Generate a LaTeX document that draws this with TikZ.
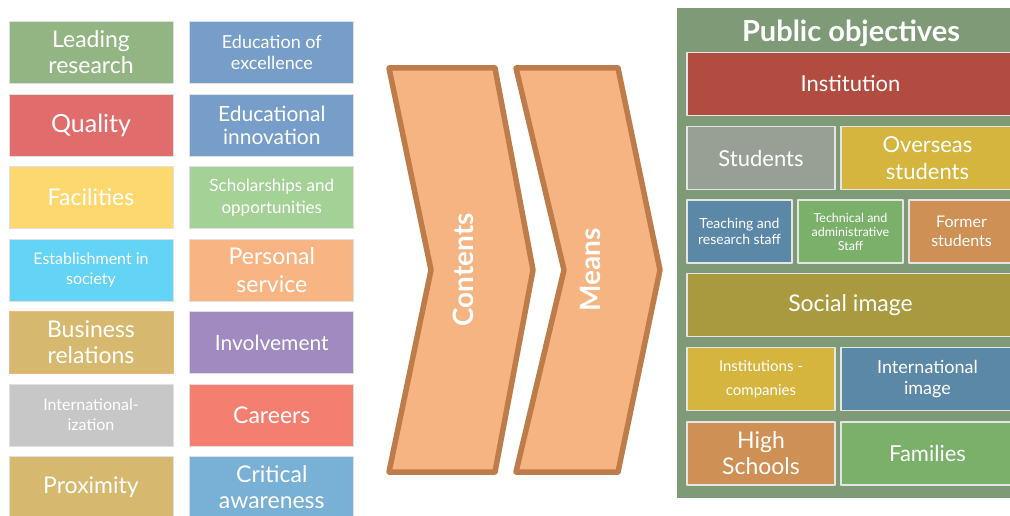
\documentclass[tikz,border=0pt]{standalone}
\usepackage{fontspec}
\setmainfont{Lato}
\usetikzlibrary{positioning}
\definecolor{cLead}{RGB}{147,181,132}
\definecolor{cExcel}{RGB}{119,158,200}
\definecolor{cQual}{RGB}{224,108,108}
\definecolor{cFacil}{RGB}{253,216,111}
\definecolor{cSchol}{RGB}{164,209,150}
\definecolor{cEstab}{RGB}{99,211,246}
\definecolor{cPers}{RGB}{248,180,130}
\definecolor{cBusi}{RGB}{214,185,110}
\definecolor{cBusiEdge}{RGB}{240,184,138}
\definecolor{cInvol}{RGB}{160,138,191}
\definecolor{cIntern}{RGB}{198,199,198}
\definecolor{cCareer}{RGB}{244,127,112}
\definecolor{cCrit}{RGB}{120,176,214}
\definecolor{cChev}{RGB}{245,180,130}
\definecolor{cChevEdge}{RGB}{190,124,74}
\definecolor{cPanel}{RGB}{127,154,119}
\definecolor{cInst}{RGB}{179,76,64}
\definecolor{cStud}{RGB}{152,160,149}
\definecolor{cGold}{RGB}{213,181,61}
\definecolor{cSteel}{RGB}{92,136,168}
\definecolor{cLeaf}{RGB}{122,176,106}
\definecolor{cCopper}{RGB}{207,144,85}
\definecolor{cOlive}{RGB}{169,154,64}
\newcommand{\fsz}[2]{\fontsize{#1}{#2}\selectfont}
\begin{document}
\begin{tikzpicture}[x=1pt,y=-1pt,line join=round,node distance=9.7pt,
  box/.style={draw=white!88!black,line width=0.8pt,text=white,align=center,inner sep=0pt,
    minimum width=164pt,minimum height=62pt},
  tile/.style={draw=white!90!black,line width=1.2pt,text=white,align=center,inner sep=0pt,
    minimum height=63pt},
  chev/.style={fill=cChev,draw=cChevEdge,line width=5.5pt}]
\useasboundingbox (0,0) rectangle (1010,516);
\clip (0,0) rectangle (1010,516);
% left columns
\node[box,fill=cLead,font=\fsz{23}{26}] (lead) at (91,52.5) {Leading\\research};
\node[box,fill=cQual,font=\fsz{25}{28},below=of lead] (qual) {Quality};
\node[box,fill=cFacil,font=\fsz{23}{26},below=of qual] (facil) {Facilities};
\node[box,fill=cEstab,font=\fsz{16}{20},below=of facil] (estab) {Establishment in\\society};
\node[box,fill=cBusi,draw=cBusiEdge,font=\fsz{23}{26},below=of estab] (busi) {Business\\relations};
\node[box,fill=cIntern,font=\fsz{16}{20},below=of busi] (intern) {International-\\ization};
\node[box,fill=cBusi,font=\fsz{23}{26},below=of intern] (prox) {Proximity};
\node[box,fill=cExcel,font=\fsz{18}{21},right=16pt of lead] (excel) {Education of\\excellence};
\node[box,fill=cExcel,font=\fsz{21}{23},below=of excel] (innov) {Educational\\innovation};
\node[box,fill=cSchol,font=\fsz{17}{22},below=of innov] (schol) {Scholarships and\\opportunities};
\node[box,fill=cPers,font=\fsz{23}{28},below=of schol] (pers) {Personal\\service};
\node[box,fill=cInvol,font=\fsz{21}{24},below=of pers] (invol) {Involvement};
\node[box,fill=cCareer,font=\fsz{23}{26},below=of invol] (career) {Careers};
\node[box,fill=cCrit,font=\fsz{23}{26},below=of career] (crit) {Critical\\awareness};
% chevrons
\draw[chev] (389,68) -- (495,68) -- (533,270) -- (495,472) -- (389,472) -- (431,270) -- cycle;
\draw[chev] (516,68) -- (618,68) -- (660,270) -- (618,472) -- (516,472) -- (564,270) -- cycle;
\node[rotate=90,text=white,font=\bfseries\fsz{28}{30}] (contents) at (463,270) {Contents};
\node[rotate=90,text=white,font=\bfseries\fsz{28}{30}] (means) at (590,270) {Means};
% public objectives
\fill[cPanel] (677,8) rectangle (1030,498);
\node[text=white,font=\bfseries\fsz{29}{32}] (title) at (851,33) {Public objectives};
\node[tile,fill=cInst,minimum width=327pt,font=\fsz{22}{25}] (inst) at (850.5,84) {Institution};
\node[tile,fill=cStud,minimum width=148pt,font=\fsz{22}{25}] (stud) at (761,158) {Students};
\node[tile,fill=cGold,minimum width=173pt,font=\fsz{22}{27}] (over) at (927.5,158) {Overseas\\students};
\node[tile,fill=cSteel,minimum width=105pt,font=\fsz{14}{16}] (teach) at (739.5,231.5) {Teaching and\\research staff};
\node[tile,fill=cLeaf,minimum width=105pt,font=\fsz{12.5}{14}] (tech) at (850.5,231.5) {Technical and\\administrative\\Staff};
\node[tile,fill=cCopper,minimum width=105pt,font=\fsz{16}{19}] (former) at (961.5,231.5) {Former\\students};
\node[tile,fill=cOlive,minimum width=327pt,font=\fsz{23}{26}] (social) at (850.5,305) {Social image};
\node[tile,fill=cGold,minimum width=148pt,font=\fsz{15}{24}] (instco) at (761,379) {Institutions -\\companies};
\node[tile,fill=cSteel,minimum width=173pt,font=\fsz{18}{21}] (intimg) at (927.5,379) {International\\image};
\node[tile,fill=cCopper,minimum width=148pt,font=\fsz{23}{26}] (high) at (761,453.5) {High\\Schools};
\node[tile,fill=cLeaf,minimum width=173pt,font=\fsz{22}{25}] (fam) at (927.5,453.5) {Families};
\end{tikzpicture}
\end{document}
